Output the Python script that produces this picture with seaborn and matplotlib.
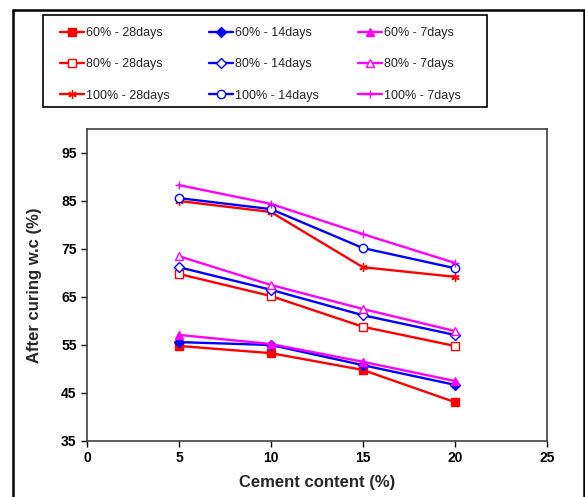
"""
Teor de umidade após a cura vs. teor de cimento
(60%, 80% e 100% de w.c inicial; 7, 14 e 28 dias de cura)
"""

import numpy as np
import pandas as pd
import matplotlib.pyplot as plt
import seaborn as sns
from matplotlib.patches import Rectangle

# Dados
cement = [5, 10, 15, 20]

wc60_28 = [54.8, 53.3, 49.8, 43.1]
wc60_14 = [55.6, 55.0, 50.8, 46.7]
wc60_7 = [57.1, 55.2, 51.5, 47.5]

wc80_28 = [69.8, 65.2, 58.8, 54.8]
wc80_14 = [71.2, 66.5, 61.2, 57.1]
wc80_7 = [73.5, 67.5, 62.5, 57.9]

wc100_28 = [85.0, 82.7, 71.2, 69.2]
wc100_14 = [85.6, 83.3, 75.2, 71.0]
wc100_7 = [88.3, 84.4, 78.1, 72.1]

labels = ['60% - 28days', '80% - 28days', '100% - 28days',
          '60% - 14days', '80% - 14days', '100% - 14days',
          '60% - 7days', '80% - 7days', '100% - 7days']
series = [wc60_28, wc80_28, wc100_28,
          wc60_14, wc80_14, wc100_14,
          wc60_7, wc80_7, wc100_7]

x_ticks = [0, 5, 10, 15, 20, 25]
y_ticks = [35, 45, 55, 65, 75, 85, 95]

# estilo de cada série: (cor, marcador, preenchido)
styles = [('red', 's', True), ('red', 's', False), ('red', (6, 2, 0), True),
          ('blue', 'D', True), ('blue', 'D', False), ('blue', 'o', False),
          ('magenta', '^', True), ('magenta', '^', False), ('magenta', '+', True)]


def build_frame():
    rows = []
    for label, vals in zip(labels, series):
        for c, v in zip(cement, vals):
            rows.append({'serie': label, 'cimento': c, 'wc': v})
    return pd.DataFrame(rows)


def main():
    sns.set_style('ticks')
    plt.rcParams['font.family'] = ['Liberation Sans', 'DejaVu Sans']

    df = build_frame()

    fig = plt.figure(figsize=(5.85, 4.97), dpi=100)
    ax = fig.add_axes([0.1487, 0.1127, 0.786, 0.6278])

    for label, (color, marker, filled) in zip(labels, styles):
        sub = df[df['serie'] == label]
        size = 5 if marker == 'D' else 6
        sns.lineplot(data=sub, x='cimento', y='wc', ax=ax, color=color,
                     linewidth=1.7, marker=marker, markersize=size,
                     markerfacecolor=color if filled else 'white',
                     markeredgecolor=color, markeredgewidth=1.0,
                     label=label)

    ax.set_xlim(0, 25)
    ax.set_ylim(35, 100)
    ax.set_xticks(x_ticks)
    ax.set_yticks(y_ticks)
    ax.tick_params(axis='both', direction='out', length=4, width=1,
                   labelsize=10, colors='black')
    for t in ax.get_xticklabels() + ax.get_yticklabels():
        t.set_fontweight('bold')
    for s in ax.spines.values():
        s.set_color('#404040')
        s.set_linewidth(1.2)
        s.set_visible(True)

    ax.set_xlabel('Cement content (%)', fontsize=12, fontweight='bold', labelpad=7)
    ax.set_ylabel('After curing w.c (%)', fontsize=12, fontweight='bold', labelpad=14)

    handles, lbls = ax.get_legend_handles_labels()
    ax.legend_.remove()
    fig.legend(handles, lbls, ncol=3, loc='upper left',
               bbox_to_anchor=(60 / 585, 1 - 27 / 497),
               fontsize=9, frameon=False, handlelength=1.95,
               handletextpad=0.15, borderpad=0, labelspacing=1.55,
               columnspacing=3.1, borderaxespad=0)

    # caixa da legenda
    fig.patches.append(Rectangle((43 / 585, 1 - 107 / 497), 444 / 585, 92 / 497,
                                 transform=fig.transFigure, fill=False,
                                 edgecolor='black', linewidth=1.2))

    # moldura externa da figura
    fig.patches.append(Rectangle((13 / 585, -0.01), 571 / 585, 1 - 10 / 497 + 0.01,
                                 transform=fig.transFigure, fill=False,
                                 edgecolor='black', linewidth=1.8))

    fig.savefig('out.png', dpi=100)
    plt.close(fig)


if __name__ == '__main__':
    main()
